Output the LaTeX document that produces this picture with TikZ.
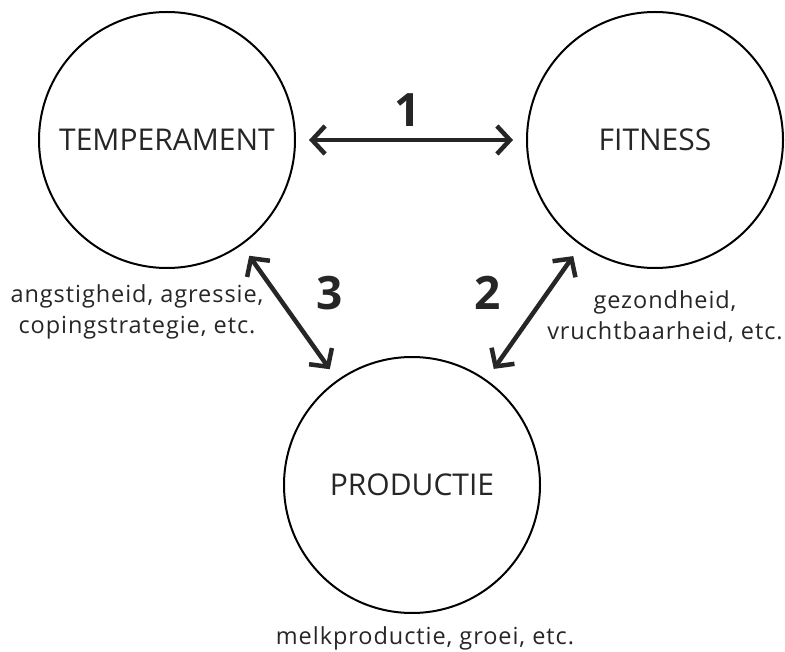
\documentclass[tikz,border=0pt]{standalone}
\usepackage{fontspec}
\setmainfont{Open Sans}
\newfontfamily\notefont[LetterSpace=4]{Open Sans}
\usetikzlibrary{arrows.meta}
\begin{document}
\begin{tikzpicture}[x=1pt,y=-1pt,
  bubble/.style={circle,draw,line width=2pt,minimum size=256pt,inner sep=0pt,font=\fontsize{30}{36}\selectfont,text=black!85},
  link/.style={line width=4.5pt,black!85,{Straight Barb[length=13pt,width=28pt]}-{Straight Barb[length=13pt,width=28pt]},shorten <=13pt,shorten >=13pt},
  num/.style={font=\fontsize{46}{50}\selectfont\bfseries,text=black!85,inner sep=0pt},
  note/.style={font=\notefont\fontsize{23.5}{31}\selectfont,text=black!85,align=center,inner sep=0pt}]
\useasboundingbox (0,0) rectangle (785,652);
\node[bubble] (temp) at (167,140) {TEMPERAMENT};
\node[bubble] (fit) at (655,140) {FITNESS};
\node[bubble] (prod) at (412,485) {PRODUCTIE};
\draw[link] (temp) -- (fit);
\draw[link] (temp) -- (prod);
\draw[link] (fit) -- (prod);
\node[num] (n1) at (408,110) {1};
\node[num] (n3) at (330,293) {3};
\node[num] (n2) at (488,293) {2};
\node[note] (ltxt) at (137,312) {angstigheid, agressie,\\copingstrategie, etc.};
\node[note] (rtxt) at (665,317) {gezondheid,\\vruchtbaarheid, etc.};
\node[note] (btxt) at (425,638) {melkproductie, groei, etc.};
\end{tikzpicture}
\end{document}
